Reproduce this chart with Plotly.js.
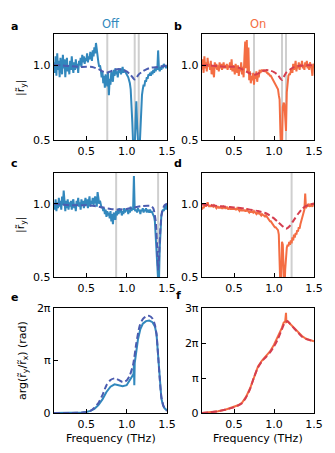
<!DOCTYPE html>
<html>
<head>
<meta charset="utf-8">
<script src="https://cdn.plot.ly/plotly-3.0.1.min.js"></script>
<style>
  html, body { margin: 0; padding: 0; background: white; }
  #chart { width: 335px; height: 453px; }
</style>
</head>
<body>
<div id="chart"></div>
<script>
// measured frequency grid (THz)
var freq = [0.10,0.11,0.12,0.13,0.14,0.15,0.16,0.17,0.18,0.19,
    0.20,0.21,0.22,0.23,0.24,0.25,0.26,0.27,0.28,0.29,
    0.30,0.31,0.32,0.33,0.34,0.35,0.36,0.37,0.38,0.39,
    0.40,0.41,0.42,0.43,0.44,0.45,0.46,0.47,0.48,0.49,
    0.50,0.51,0.52,0.53,0.54,0.55,0.56,0.57,0.58,0.59,
    0.60,0.61,0.62,0.63,0.64,0.65,0.66,0.67,0.68,0.69,
    0.70,0.71,0.72,0.73,0.74,0.75,0.76,0.77,0.78,0.79,
    0.80,0.81,0.82,0.83,0.84,0.85,0.86,0.87,0.88,0.89,
    0.90,0.91,0.92,0.93,0.94,0.95,0.96,0.97,0.98,0.99,
    1.00,1.01,1.02,1.03,1.04,1.05,1.06,1.07,1.08,1.09,
    1.10,1.11,1.12,1.13,1.14,1.15,1.16,1.17,1.18,1.19,
    1.20,1.21,1.22,1.23,1.24,1.25,1.26,1.27,1.28,1.29,
    1.30,1.31,1.32,1.33,1.34,1.35,1.36,1.37,1.38,1.39,
    1.40,1.41,1.42,1.43,1.44,1.45,1.46,1.47,1.48,1.49,1.50]

// panel a: |r_y| measured, off
var offA = [1.02,0.95,1.06,0.93,1.08,0.97,1.03,0.92,1.05,1.00,
    0.94,1.07,0.98,1.04,0.92,1.01,1.05,0.96,1.00,0.94,
    1.03,0.97,1.06,0.99,0.95,1.02,0.97,1.04,0.98,1.01,
    0.95,1.03,1.00,1.05,0.99,1.07,1.02,1.06,1.01,1.05,
    1.03,1.08,1.02,1.06,1.04,1.09,1.05,1.03,1.10,1.06,
    1.12,1.08,1.15,1.09,1.06,1.02,0.99,1.00,0.97,0.92,
    0.96,0.88,0.93,0.85,0.94,0.90,0.86,0.95,0.80,0.91,
    0.87,0.96,0.92,0.89,0.97,0.93,0.98,0.94,0.96,0.92,
    0.97,0.95,0.98,0.94,0.96,0.99,0.95,0.97,0.96,0.95,
    0.95,0.93,0.92,0.90,0.88,0.84,0.76,0.62,0.48,0.42,
    0.45,0.62,0.76,0.60,0.45,0.40,0.44,0.58,0.74,0.80,
    0.84,0.87,0.86,0.90,0.89,0.92,0.91,0.94,0.93,0.95,
    0.93,0.96,0.94,0.97,0.95,0.98,0.96,0.99,0.97,1.10,
    0.98,0.96,0.99,0.97,1.00,0.98,1.01,0.99,1.00,0.98,1.00]

// panel b: |r_y| measured, on
var onB = [0.97,1.04,0.95,1.06,0.98,1.02,0.96,1.05,0.99,1.01,
    0.97,1.03,0.94,1.00,0.96,0.92,1.02,0.98,1.01,0.97,
    1.00,0.96,1.02,0.98,1.01,0.97,0.99,1.02,0.98,1.00,
    0.98,1.01,0.97,1.00,0.99,1.02,0.97,1.04,0.96,1.00,
    0.98,0.94,1.01,0.97,0.95,1.00,0.93,0.98,0.96,1.02,
    0.94,0.99,0.92,1.05,1.16,0.98,1.17,0.95,1.12,0.90,
    0.96,0.88,0.93,0.90,0.95,0.87,0.94,0.91,0.96,0.89,
    0.94,0.92,0.97,0.95,0.96,0.97,0.96,0.97,0.96,0.96,
    0.96,0.95,0.95,0.94,0.94,0.93,0.93,0.92,0.91,0.91,
    0.90,0.89,0.88,0.87,0.86,0.84,0.80,0.77,0.55,0.42,
    0.45,0.72,0.75,0.74,0.66,0.56,0.82,0.90,0.93,0.94,
    0.94,0.96,0.98,0.95,1.01,0.97,0.99,1.03,0.96,1.00,
    0.98,1.02,0.97,1.01,0.99,1.03,0.98,1.00,0.97,1.02,
    0.99,1.03,0.98,1.01,0.97,1.02,1.00,0.98,0.93,1.01,1.00]

// panel c: |r_y| measured, off, second sample
var offC = [1.00,0.96,1.03,0.95,1.01,0.97,1.04,0.98,1.02,0.96,
    1.05,0.99,1.09,1.00,0.95,1.02,0.97,1.03,0.96,1.01,
    0.98,1.02,0.96,1.01,1.03,0.97,1.00,0.95,1.02,0.99,
    1.04,0.98,1.01,0.96,1.03,0.99,1.02,0.97,1.01,1.04,
    0.99,1.03,0.97,1.01,1.05,0.98,1.02,1.00,1.04,0.99,
    1.02,1.05,1.01,0.98,1.08,1.03,1.00,1.02,0.99,0.97,
    0.98,0.95,0.97,0.93,0.96,0.91,0.95,0.92,0.94,0.90,
    0.95,0.88,0.93,0.86,0.94,0.91,0.89,0.95,0.92,0.96,
    0.93,0.97,0.94,0.96,0.92,0.95,0.93,0.97,0.94,0.96,
    0.95,0.97,0.93,0.96,0.94,0.98,0.95,0.97,0.96,1.19,
    0.96,0.95,0.96,0.94,0.97,0.95,0.96,0.93,0.96,0.95,
    0.97,0.94,0.96,0.95,0.97,0.94,0.96,0.95,0.94,0.96,
    0.94,0.95,0.94,0.93,0.91,0.88,0.80,0.72,0.58,0.48,
    0.46,0.70,0.86,0.92,0.94,0.96,0.95,0.97,0.99,0.96,1.00]

// panel d: |r_y| measured, on, second sample
var onD = [0.96,0.98,0.97,0.99,1.00,0.98,0.99,1.01,0.99,0.98,
    0.99,0.98,0.99,0.98,0.98,0.99,0.98,0.98,0.97,0.98,
    0.98,0.97,0.98,0.97,0.98,0.97,0.97,0.98,0.97,0.97,
    0.97,0.98,0.97,0.96,0.97,0.97,0.96,0.97,0.96,0.97,
    0.96,0.97,0.96,0.96,0.97,0.96,0.96,0.95,0.96,0.96,
    0.95,0.96,0.95,0.96,0.95,0.95,0.96,0.95,0.95,0.94,
    0.95,0.94,0.95,0.94,0.94,0.95,0.94,0.94,0.93,0.94,
    0.93,0.94,0.93,0.93,0.92,0.93,0.92,0.92,0.92,0.91,
    0.92,0.91,0.90,0.90,0.89,0.88,0.88,0.87,0.86,0.86,
    0.85,0.84,0.84,0.83,0.82,0.82,0.79,0.62,0.42,0.48,
    0.74,0.72,0.48,0.40,0.55,0.68,0.70,0.72,0.71,0.74,
    0.72,0.75,0.73,0.77,0.75,0.79,0.77,0.80,0.79,0.82,
    0.81,0.84,0.83,0.86,0.88,0.89,0.91,0.94,0.96,1.07,
    0.97,0.99,0.98,1.00,0.99,0.98,1.00,0.99,0.98,1.00,1.00]

// model curves (dashed)
var modelAFreq = [0.1,0.2,0.3,0.4,0.5,0.55,0.6,0.65,0.7,0.75,0.8,0.85,0.9,0.95,1.0,1.05,1.08,1.1,1.12,1.15,1.2,1.25,1.3,1.4,1.5]
var modelA = [1.0,1.0,0.995,0.99,0.99,0.99,0.985,0.975,0.96,0.95,0.96,0.97,0.975,0.97,0.96,0.935,0.915,0.905,0.915,0.94,0.96,0.975,0.985,0.99,1.0]
var modelB = [1.0,1.0,0.995,0.99,0.99,0.985,0.975,0.96,0.945,0.937,0.945,0.96,0.968,0.965,0.955,0.935,0.912,0.902,0.92,0.95,0.972,0.988,0.995,1.0,1.0]

var modelCFreq = [0.1,0.2,0.3,0.4,0.5,0.6,0.7,0.8,0.9,1.0,1.1,1.2,1.3,1.33,1.36,1.38,1.39,1.40,1.42,1.44,1.47,1.5]
var modelC = [1.0,0.995,0.99,0.99,0.99,0.985,0.975,0.965,0.96,0.965,0.975,0.985,0.985,0.97,0.88,0.68,0.55,0.62,0.85,0.95,0.99,1.0]

var modelDFreq = [0.1,0.2,0.3,0.4,0.5,0.6,0.7,0.8,0.9,1.0,1.05,1.1,1.15,1.2,1.25,1.3,1.35,1.4,1.45,1.5]
var modelD = [0.995,0.99,0.985,0.98,0.975,0.97,0.96,0.95,0.935,0.90,0.875,0.85,0.83,0.85,0.89,0.93,0.965,0.985,0.995,1.0]

// phase arg(r_y/r_x), in units of pi
var phaseOffFreq = [0.10,0.30,0.45,0.50,0.55,0.60,0.65,0.70,0.75,0.80,0.85,0.90,0.95,1.00,1.04,1.07,1.085,1.09,1.095,1.10,1.12,1.14,1.17,1.20,1.24,1.28,1.32,1.35,1.37,1.39,1.41,1.43,1.45,1.47,1.50]
var phaseOff = [0.0,0.0,0.01,0.02,0.04,0.08,0.15,0.26,0.40,0.50,0.545,0.53,0.51,0.53,0.62,0.70,0.74,0.92,0.53,0.95,1.15,1.40,1.60,1.70,1.75,1.76,1.73,1.65,1.50,1.10,0.56,0.28,0.15,0.09,0.05]
var phaseOffModelFreq = [0.1,0.3,0.45,0.5,0.55,0.6,0.65,0.7,0.75,0.8,0.85,0.9,0.95,1.0,1.04,1.08,1.12,1.16,1.2,1.24,1.28,1.32,1.35,1.37,1.39,1.41,1.43,1.46,1.5]
var phaseOffModel = [0.0,0.0,0.01,0.02,0.04,0.10,0.19,0.34,0.53,0.63,0.66,0.63,0.59,0.62,0.72,0.92,1.33,1.65,1.79,1.84,1.85,1.80,1.68,1.50,1.10,0.65,0.31,0.12,0.04]

var phaseOnFreq = [0.10,0.20,0.30,0.40,0.50,0.55,0.60,0.65,0.70,0.75,0.80,0.85,0.90,0.95,1.00,1.05,1.08,1.10,1.12,1.14,1.15,1.155,1.17,1.20,1.25,1.30,1.35,1.40,1.45,1.50]
var phaseOn = [0.0,0.02,0.05,0.10,0.17,0.22,0.29,0.46,0.70,1.04,1.33,1.50,1.62,1.76,1.95,2.18,2.32,2.44,2.58,2.62,2.86,2.60,2.62,2.55,2.43,2.32,2.20,2.12,2.08,2.05]
var phaseOnModelFreq = [0.1,0.2,0.3,0.4,0.5,0.6,0.65,0.7,0.75,0.8,0.85,0.9,0.95,1.0,1.05,1.1,1.14,1.17,1.2,1.25,1.3,1.35,1.4,1.45,1.5]
var phaseOnModel = [0.0,0.02,0.05,0.10,0.16,0.28,0.44,0.68,1.02,1.30,1.48,1.60,1.73,1.90,2.12,2.40,2.60,2.62,2.55,2.42,2.30,2.18,2.12,2.08,2.04]

// gray resonance markers
var markA = [0.76, 1.10, 1.15]
var markB = [0.75, 1.10, 1.15]
var markC = [0.87, 1.39]
var markD = [1.22]

var colOff = '#3288bd', colOffModel = '#4b5cb0'
var colOn = '#f46d43', colOnModel = '#d53e4f'

function solid(x, y, c, ax) {
    return { x: x, y: y, xaxis: 'x' + ax, yaxis: 'y' + ax, type: 'scatter', mode: 'lines',
        line: { color: c, width: 2 }, hoverinfo: 'skip' }
}
function dashed(x, y, c, ax) {
    return { x: x, y: y, xaxis: 'x' + ax, yaxis: 'y' + ax, type: 'scatter', mode: 'lines',
        line: { color: c, width: 2, dash: '6px,3px', shape: 'spline', smoothing: 0.6 }, hoverinfo: 'skip' }
}

var data = [
    solid(freq, offA, colOff, ''), dashed(modelAFreq, modelA, colOffModel, ''),
    solid(freq, onB, colOn, '2'), dashed(modelAFreq, modelB, colOnModel, '2'),
    solid(freq, offC, colOff, '3'), dashed(modelCFreq, modelC, colOffModel, '3'),
    solid(freq, onD, colOn, '4'), dashed(modelDFreq, modelD, colOnModel, '4'),
    solid(phaseOffFreq, phaseOff, colOff, '5'), dashed(phaseOffModelFreq, phaseOffModel, colOffModel, '5'),
    solid(phaseOnFreq, phaseOn, colOn, '6'), dashed(phaseOnModelFreq, phaseOnModel, colOnModel, '6')
]

var font = { family: 'DejaVu Sans', size: 11, color: 'black' }

function axis(extra) {
    var a = { showline: true, mirror: true, linecolor: 'black', linewidth: 1.3,
        ticks: 'inside', ticklen: 4, tickwidth: 1, tickcolor: 'black',
        showgrid: false, zeroline: false, fixedrange: true, tickfont: font }
    for (var k in extra) a[k] = extra[k]
    return a
}
var xTicks = { range: [0.1, 1.5], tickvals: [0.5, 1.0, 1.5], ticktext: ['0.5', '1.0', '1.5'] }
var magTicks = { range: [0.5, 1.21], tickvals: [0.5, 1.0], ticktext: ['0.5', '1.0'] }

var colL = [54 / 335, 167 / 335], colR = [202 / 335, 314 / 335]
var rowA = [313 / 453, 419 / 453], rowC = [176 / 453, 280 / 453], rowE = [40 / 453, 145 / 453]

function withDomain(base, d, anchor) {
    var o = {}
    for (var k in base) o[k] = base[k]
    o.domain = d
    o.anchor = anchor
    return o
}

var shapes = []
function addMarks(list, ax) {
    list.forEach(function (v) {
        shapes.push({ type: 'line', xref: 'x' + ax, yref: 'y' + ax + ' domain', x0: v, x1: v, y0: 0, y1: 1,
            layer: 'below', line: { color: '#cfcfcf', width: 2 } })
    })
}
addMarks(markA, '')
addMarks(markB, '2')
addMarks(markC, '3')
addMarks(markD, '4')

var layout = {
    width: 335, height: 453,
    margin: { l: 0, r: 0, t: 0, b: 0 },
    paper_bgcolor: 'white', plot_bgcolor: 'white',
    showlegend: false,
    font: font,
    xaxis: axis(withDomain(xTicks, colL, 'y')),
    yaxis: axis(withDomain(magTicks, rowA, 'x')),
    xaxis2: axis(withDomain(xTicks, colR, 'y2')),
    yaxis2: axis(withDomain(magTicks, rowA, 'x2')),
    xaxis3: axis(withDomain(xTicks, colL, 'y3')),
    yaxis3: axis(withDomain(magTicks, rowC, 'x3')),
    xaxis4: axis(withDomain(xTicks, colR, 'y4')),
    yaxis4: axis(withDomain(magTicks, rowC, 'x4')),
    xaxis5: axis(withDomain(xTicks, colL, 'y5')),
    yaxis5: axis({ domain: rowE, anchor: 'x5', range: [0, 2], tickvals: [0, 1, 2], ticktext: ['0', 'π', '2π'] }),
    xaxis6: axis(withDomain(xTicks, colR, 'y6')),
    yaxis6: axis({ domain: rowE, anchor: 'x6', range: [0, 3], tickvals: [0, 1, 2, 3], ticktext: ['0', 'π', '2π', '3π'] }),
    shapes: shapes,
    annotations: [
        { text: '<b>a</b>', x: 14 / 335, y: 1 - 27 / 453 },
        { text: '<b>b</b>', x: 178 / 335, y: 1 - 27 / 453 },
        { text: '<b>c</b>', x: 14 / 335, y: 1 - 163 / 453 },
        { text: '<b>d</b>', x: 178 / 335, y: 1 - 163 / 453 },
        { text: '<b>e</b>', x: 14 / 335, y: 1 - 297 / 453 },
        { text: '<b>f</b>', x: 178 / 335, y: 1 - 295 / 453 },
        { text: 'Off', x: 110.5 / 335, y: 1 - 24 / 453, font: { family: 'DejaVu Sans', size: 11.5, color: colOff } },
        { text: 'On', x: 258 / 335, y: 1 - 24 / 453, font: { family: 'DejaVu Sans', size: 11.5, color: colOn } },
        { text: '|r\u0303<sub>y</sub>|', x: 21 / 335, y: 1 - 88 / 453, textangle: -90 },
        { text: '|r\u0303<sub>y</sub>|', x: 21 / 335, y: 1 - 225 / 453, textangle: -90 },
        { text: 'arg(r\u0303<sub>y</sub>/r\u0303<sub>x</sub>) (rad)', x: 23 / 335, y: 1 - 361 / 453, textangle: -90 },
        { text: 'Frequency (THz)', x: 110.5 / 335, y: 1 - 438 / 453 },
        { text: 'Frequency (THz)', x: 258 / 335, y: 1 - 438 / 453 }
    ].map(function (a) {
        var o = { xref: 'paper', yref: 'paper', showarrow: false, xanchor: 'center', yanchor: 'middle', font: font }
        for (var k in a) o[k] = a[k]
        return o
    })
}

Plotly.newPlot('chart', data, layout, { staticPlot: true, displayModeBar: false })
</script>
</body>
</html>
